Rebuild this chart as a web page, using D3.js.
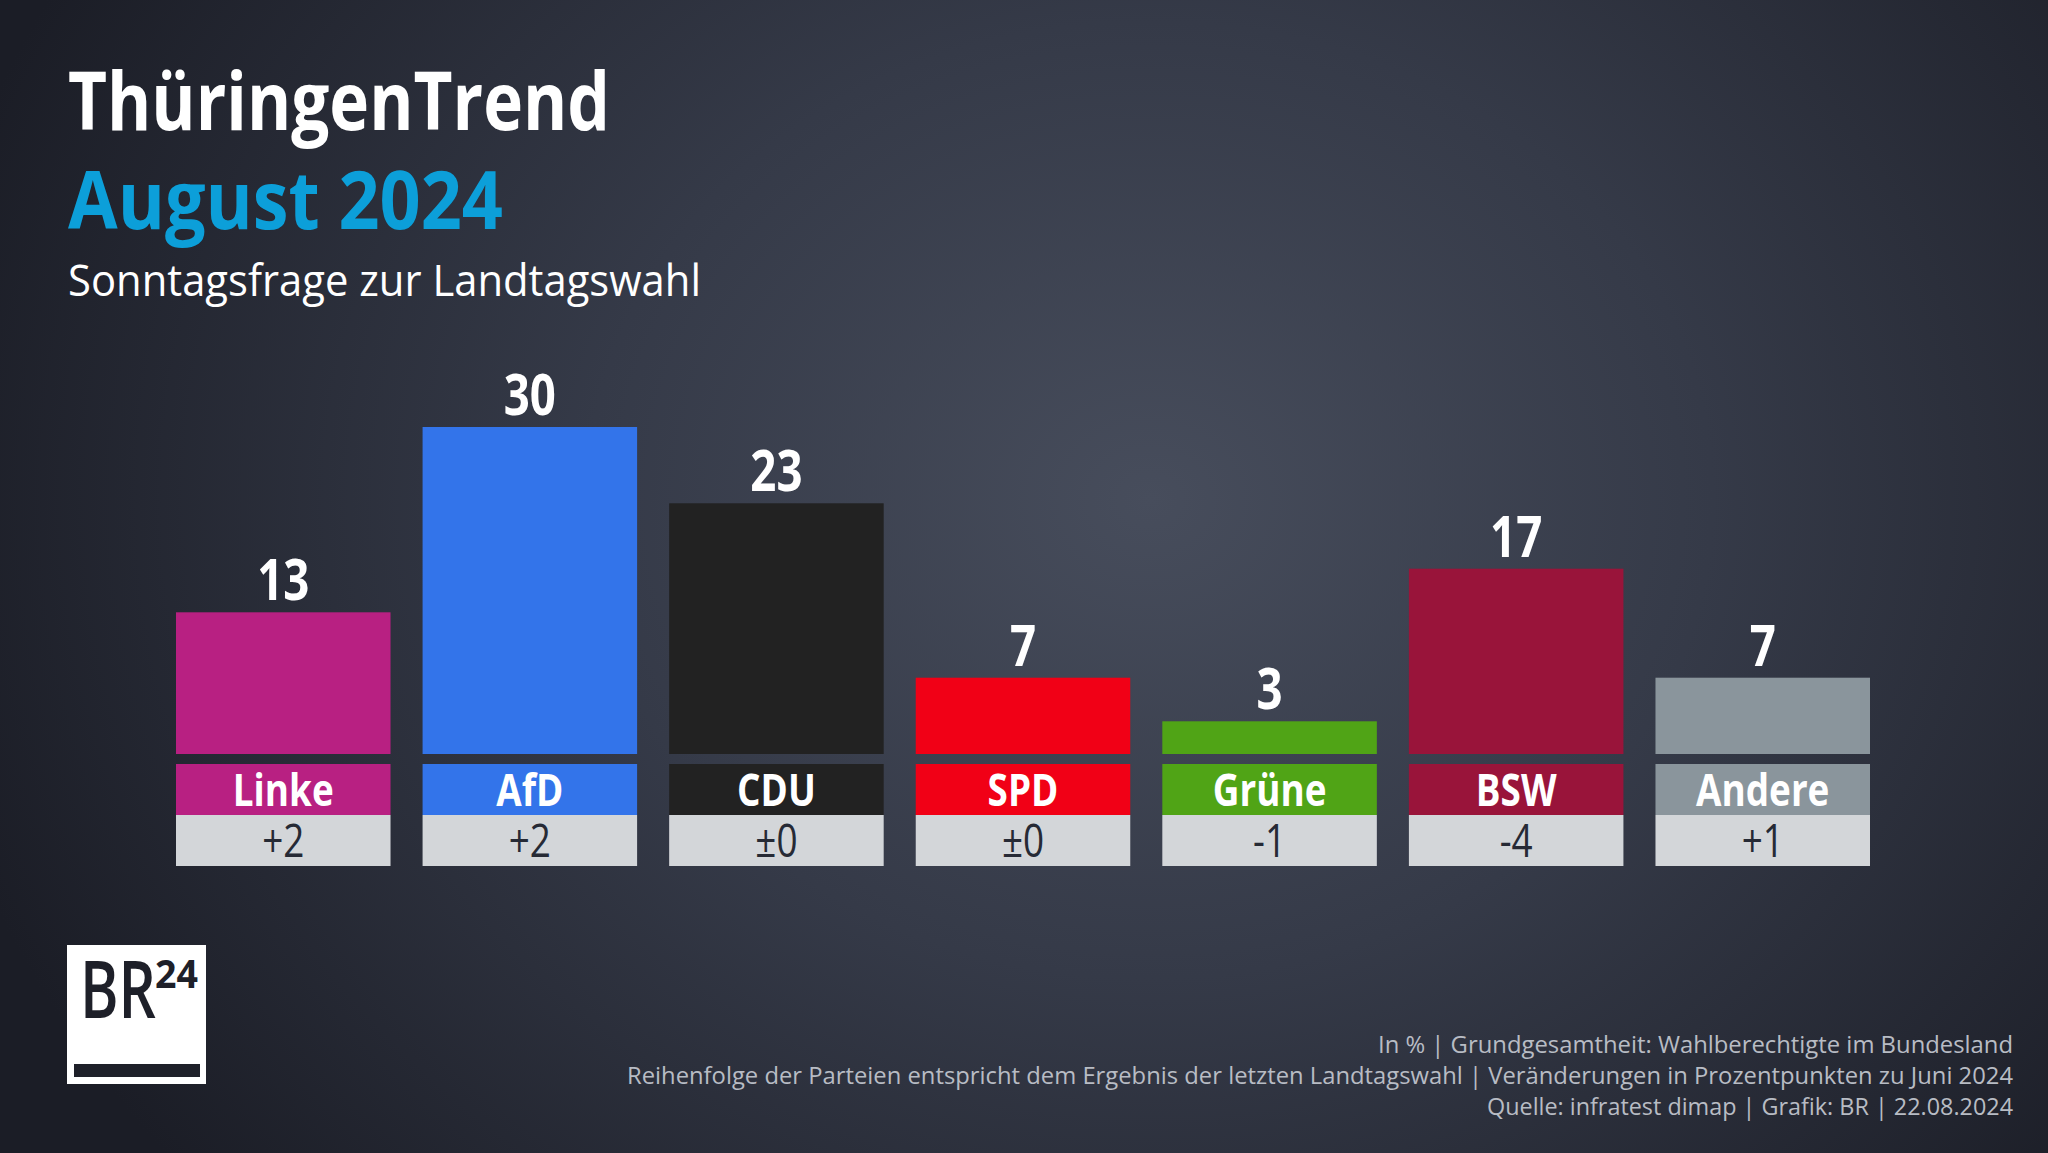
<!DOCTYPE html>
<html><head><meta charset="utf-8">
<script src="https://cdn.jsdelivr.net/npm/d3@7"></script>
<style>html,body{margin:0;padding:0;background:#1c1e28;}svg{display:block;}</style>
</head><body>
<script>
// ---- data ----
const parties = ["Linke","AfD","CDU","SPD","Grüne","BSW","Andere"];
const values = [13,30,23,7,3,17,7];
const changes = ["+2","+2","±0","±0","-1","-4","+1"];
const colors = ["#b82082","#3374ea","#222222","#f10016","#50a416","#99143a","#8a959c"];
const titleText = "ThüringenTrend";
const subtitleBlue = "August 2024";
const subtitleText = "Sonntagsfrage zur Landtagswahl";
const footerLines = [
  "In % | Grundgesamtheit: Wahlberechtigte im Bundesland",
  "Reihenfolge der Parteien entspricht dem Ergebnis der letzten Landtagswahl | Veränderungen in Prozentpunkten zu Juni 2024",
  "Quelle: infratest dimap | Grafik: BR | 22.08.2024"
];
const footerWidths = [635, 1386, 526];

const W = 2048, H = 1153;
const FONT = "'Open Sans', 'Noto Sans', sans-serif";
const svg = d3.select("body").append("svg").attr("width", W).attr("height", H);

// background
const defs = svg.append("defs");
const rg = defs.append("radialGradient").attr("id","bg")
  .attr("gradientUnits","userSpaceOnUse").attr("cx",1150).attr("cy",500).attr("r",1250)
  .attr("gradientTransform","translate(1150,500) scale(1,0.85) translate(-1150,-500)");
rg.append("stop").attr("offset","0%").attr("stop-color","#474d5c");
rg.append("stop").attr("offset","45%").attr("stop-color","#353a48");
rg.append("stop").attr("offset","100%").attr("stop-color","#1b1d26");
svg.append("rect").attr("width",W).attr("height",H).attr("fill","url(#bg)");

// helper: condensed text via horizontal scale
function ctext(g, x, y, txt, size, weight, fill, anchor, sx){
  const t = g.append("text")
    .attr("transform", `translate(${x},${y}) scale(${sx},1)`)
    .attr("text-anchor", anchor)
    .attr("font-family", FONT).attr("font-size", size).attr("font-weight", weight)
    .attr("fill", fill).text(txt);
  return t;
}

// titles
svg.append("text").attr("x",68).attr("y",130).attr("font-family",FONT).attr("font-size",80)
  .attr("font-weight",700).attr("fill","#ffffff").attr("textLength",542).attr("lengthAdjust","spacingAndGlyphs").text(titleText);
svg.append("text").attr("x",68).attr("y",229).attr("font-family",FONT).attr("font-size",80)
  .attr("font-weight",700).attr("fill","#0c9fd9").attr("textLength",435).attr("lengthAdjust","spacingAndGlyphs").text(subtitleBlue);
svg.append("text").attr("x",68).attr("y",296).attr("font-family",FONT).attr("font-size",44)
  .attr("font-weight",400).attr("fill","#ffffff").attr("textLength",633).attr("lengthAdjust","spacingAndGlyphs").text(subtitleText);

// scales
const x = d3.scaleBand().domain(parties).range([176,1870]).paddingInner(0.13).paddingOuter(0);
const y = d3.scaleLinear().domain([0,30]).range([754,427]);

const data = parties.map((p,i)=>({p, v:values[i], c:changes[i], col:colors[i]}));
const g = svg.append("g");

g.selectAll("rect.bar").data(data).join("rect").attr("class","bar")
  .attr("x",d=>x(d.p)).attr("width",x.bandwidth())
  .attr("y",d=>y(d.v)).attr("height",d=>y(0)-y(d.v)).attr("fill",d=>d.col);

const nameTop = 764, nameH = 51, chgH = 51;
g.selectAll("rect.name").data(data).join("rect").attr("class","name")
  .attr("x",d=>x(d.p)).attr("width",x.bandwidth())
  .attr("y",nameTop).attr("height",nameH).attr("fill",d=>d.col);
g.selectAll("rect.chg").data(data).join("rect").attr("class","chg")
  .attr("x",d=>x(d.p)).attr("width",x.bandwidth())
  .attr("y",nameTop+nameH).attr("height",chgH).attr("fill","#d3d6d9");

data.forEach(d=>{
  const cx = x(d.p) + x.bandwidth()/2;
  ctext(g, cx, y(d.v)-12, String(d.v), 57, 700, "#ffffff", "middle", 0.8);
  ctext(g, cx, 806, d.p, 45, 700, "#ffffff", "middle", 0.82);
  ctext(g, cx, 857, d.c, 45, 400, "#262a35", "middle", 0.82);
});

// logo
const lg = svg.append("g");
lg.append("rect").attr("x",67).attr("y",945).attr("width",139).attr("height",139).attr("fill","#ffffff");
lg.append("text").attr("x",80).attr("y",1018).attr("font-family",FONT).attr("font-size",80).attr("font-weight",600)
  .attr("fill","#1e2029").attr("textLength",76).attr("lengthAdjust","spacingAndGlyphs").text("BR");
lg.append("text").attr("x",155).attr("y",988).attr("font-family",FONT).attr("font-size",40).attr("font-weight",700)
  .attr("fill","#1e2029").attr("textLength",43).attr("lengthAdjust","spacingAndGlyphs").text("24");
lg.append("rect").attr("x",74).attr("y",1064).attr("width",126).attr("height",13).attr("fill","#1e2029");

// footer
footerLines.forEach((t,i)=>{
  svg.append("text").attr("x",2013).attr("y",1053+i*31).attr("text-anchor","end")
    .attr("font-family",FONT).attr("font-size",24).attr("fill","#b8bcc4")
    .attr("textLength",footerWidths[i]).attr("lengthAdjust","spacingAndGlyphs").text(t);
});
</script>
</body></html>
